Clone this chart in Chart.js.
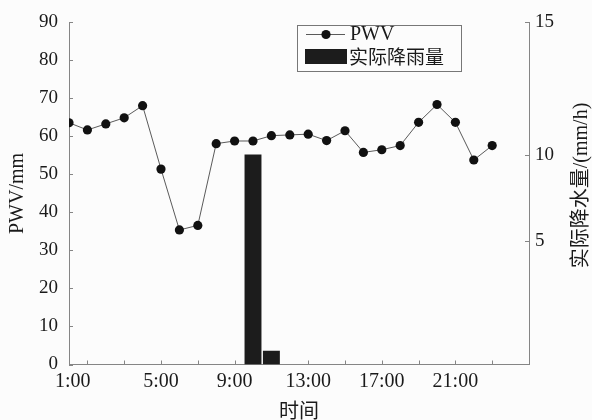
<!DOCTYPE html>
<html>
<head>
<meta charset="utf-8">
<script src="https://cdn.jsdelivr.net/npm/chart.js@4.4.0/dist/chart.umd.min.js"></script>
<style>
    body { margin: 0; background: #fcfcfc; }
    canvas { display: block; }
</style>
</head>
<body>
<canvas id="chart" width="592" height="420"></canvas>
<script>
// hour index of every observation
const hours = [0, 1, 2, 3, 4, 5, 6, 7, 8, 9, 10, 11, 12, 13, 14, 15, 16, 17, 18, 19, 20, 21, 22, 23];
// PWV (mm)
const pwv = [63.6, 61.7, 63.3, 64.9, 68.1, 51.4, 35.4, 36.6, 58.1, 58.8, 58.8, 60.2,
             60.4, 60.6, 58.9, 61.5, 55.8, 56.5, 57.6, 63.7, 68.4, 63.7, 53.8, 57.6];
// observed rainfall (mm/h)
const rain = [0, 0, 0, 0, 0, 0, 0, 0, 0, 0, 10, 0.65,
              0, 0, 0, 0, 0, 0, 0, 0, 0, 0, 0, 0];

const timeLabels = ['1:00', '5:00', '9:00', '13:00', '17:00', '21:00'];
const timeLabelHours = [0.2, 5, 9, 13, 17, 21];
const minorTickHours = [1, 3, 5, 7, 9, 11, 13, 15, 17, 19, 21, 23];
const pwvTicks = [0, 10, 20, 30, 40, 50, 60, 70, 80, 90];
const rainTickLabels = ['5', '10', '15'];
const rainTickValues = [5.9, 10, 16.3];

const serif = "'Liberation Serif', 'Noto Sans CJK SC', serif";
const cjk = "'Noto Sans CJK SC', 'Liberation Serif', sans-serif";
const axisGray = '#858585';
const inkColor = '#1a1a1a';

Chart.defaults.font.family = serif;
Chart.defaults.color = inkColor;

// small inward tick marks, like the original plot
const tickMarks = {
    id: 'tickMarks',
    beforeDatasetsDraw(chart) {
        const { ctx, chartArea, scales } = chart;
        ctx.save();
        ctx.strokeStyle = axisGray;
        ctx.lineWidth = 1;
        ctx.beginPath();
        minorTickHours.forEach(h => {
            const x = Math.round(scales.x.getPixelForValue(h)) + 0.5;
            ctx.moveTo(x, chartArea.bottom);
            ctx.lineTo(x, chartArea.bottom - 4);
        });
        pwvTicks.forEach(v => {
            const y = Math.round(scales.y.getPixelForValue(v)) + 0.5;
            ctx.moveTo(chartArea.left, y);
            ctx.lineTo(chartArea.left + 4, y);
        });
        rainTickValues.forEach(v => {
            const y = Math.round(scales.y2.getPixelForValue(v)) + 0.5;
            ctx.moveTo(chartArea.right, y);
            ctx.lineTo(chartArea.right - 4, y);
        });
        ctx.stroke();
        ctx.restore();
    }
};

// right axis title reads bottom-to-top, and the boxed legend
const extras = {
    id: 'extras',
    afterDraw(chart) {
        const { ctx, chartArea, data } = chart;
        const line = data.datasets[1];
        const bars = data.datasets[0];
        ctx.save();

        ctx.translate(582, (chartArea.top + chartArea.bottom) / 2 - 8);
        ctx.rotate(-Math.PI / 2);
        ctx.fillStyle = inkColor;
        ctx.textAlign = 'center';
        ctx.textBaseline = 'middle';
        ctx.font = '20px ' + serif;
        ctx.fillText('实际降水量/(mm/h)', 0, 0);
        ctx.setTransform(1, 0, 0, 1, 0, 0);

        // legend box
        ctx.fillStyle = '#fcfcfc';
        ctx.fillRect(297, 25, 164, 46);
        ctx.strokeStyle = '#777';
        ctx.lineWidth = 1;
        ctx.strokeRect(297.5, 25.5, 164, 46);

        ctx.strokeStyle = line.borderColor;
        ctx.beginPath();
        ctx.moveTo(306, 34.5);
        ctx.lineTo(345, 34.5);
        ctx.stroke();
        ctx.fillStyle = line.pointBackgroundColor;
        ctx.beginPath();
        ctx.arc(326, 34.5, line.pointRadius, 0, Math.PI * 2);
        ctx.fill();

        ctx.fillStyle = bars.backgroundColor;
        ctx.fillRect(305, 49, 42, 15);

        ctx.fillStyle = inkColor;
        ctx.textAlign = 'left';
        ctx.textBaseline = 'middle';
        ctx.font = '20px ' + serif;
        ctx.fillText(line.label, 350, 35);
        ctx.font = '19px ' + cjk;
        ctx.fillText(bars.label, 349, 57);
        ctx.restore();
    }
};

new Chart(document.getElementById('chart'), {
    type: 'bar',
    data: {
        datasets: [
            {
                label: '实际降雨量',
                data: hours.map((h, i) => ({ x: h, y: rain[i] })),
                yAxisID: 'y2',
                backgroundColor: '#1c1c1c',
                borderWidth: 0,
                barPercentage: 0.92,
                categoryPercentage: 1,
                order: 2
            },
            {
                type: 'line',
                label: 'PWV',
                data: hours.map((h, i) => ({ x: h, y: pwv[i] })),
                yAxisID: 'y',
                borderColor: '#5a5a5a',
                borderWidth: 1,
                pointRadius: 4.6,
                pointBackgroundColor: '#111',
                pointBorderWidth: 0,
                tension: 0,
                order: 1
            }
        ]
    },
    options: {
        responsive: false,
        animation: false,
        layout: { padding: { top: 18, left: 0, right: 0, bottom: 0 } },
        plugins: {
            legend: { display: false },
            tooltip: { enabled: false }
        },
        scales: {
            x: {
                type: 'linear',
                offset: false,
                min: 0,
                max: 25,
                grid: { display: false, drawTicks: false },
                border: { display: true, color: axisGray, width: 1 },
                afterBuildTicks: scale => {
                    scale.ticks = timeLabelHours.map(v => ({ value: v }));
                },
                afterFit: scale => { scale.height = 55.5; },
                ticks: {
                    autoSkip: false,
                    maxRotation: 0,
                    padding: 5,
                    font: { size: 20 },
                    callback: (v, i) => timeLabels[i]
                },
                title: {
                    display: true,
                    text: '时间',
                    font: { size: 20, family: cjk, lineHeight: 1 },
                    padding: 0
                }
            },
            y: {
                position: 'left',
                min: 0,
                max: 90,
                grid: { display: false, drawTicks: false },
                border: { display: true, color: axisGray, width: 1 },
                afterBuildTicks: scale => {
                    scale.ticks = pwvTicks.map(v => ({ value: v }));
                },
                afterFit: scale => { scale.width = 69; },
                ticks: { padding: 11, font: { size: 19 } },
                title: {
                    display: true,
                    text: 'PWV/mm',
                    font: { size: 20 },
                    padding: { top: 6, bottom: 0 }
                }
            },
            y2: {
                position: 'right',
                min: 0,
                max: 16.3,
                grid: { display: false, drawTicks: false },
                border: { display: true, color: axisGray, width: 1 },
                afterBuildTicks: scale => {
                    scale.ticks = rainTickValues.map(v => ({ value: v }));
                },
                afterFit: scale => { scale.width = 63; },
                ticks: {
                    padding: 6,
                    font: { size: 19 },
                    callback: (v, i) => rainTickLabels[i]
                }
            }
        }
    },
    plugins: [tickMarks, extras]
});
</script>
</body>
</html>
